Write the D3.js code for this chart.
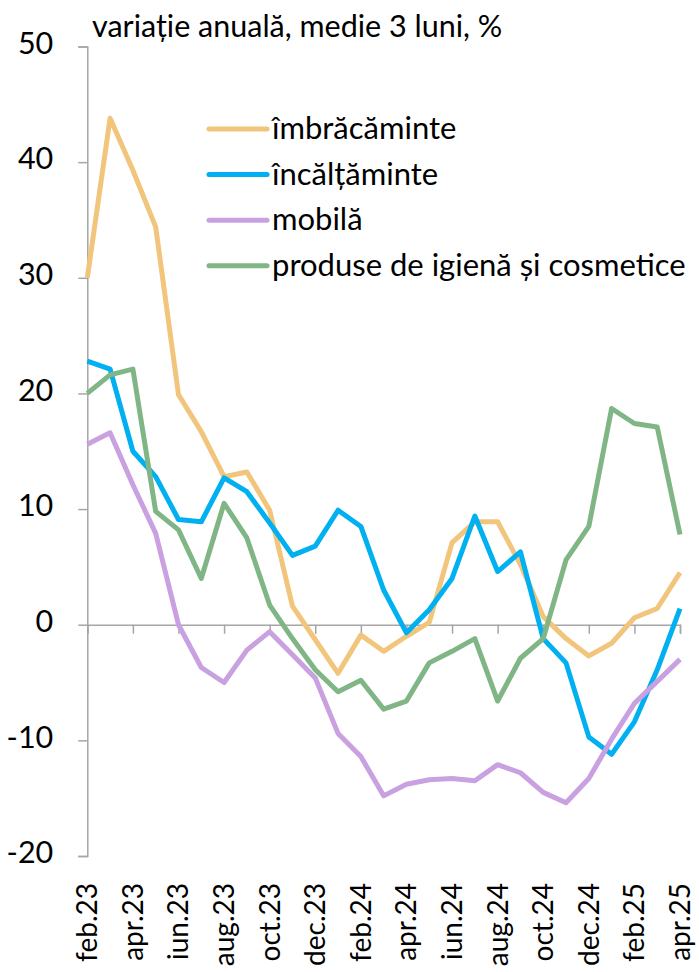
<!DOCTYPE html>
<html>
<head>
<meta charset="utf-8">
<script src="https://cdn.jsdelivr.net/npm/d3@7"></script>
<style>
  body { margin: 0; background: #fff; }
  text { font-family: Lato, "Open Sans", sans-serif; fill: #000; }
</style>
</head>
<body>
<div id="chart"></div>
<script>
const months = ['feb.23','mar.23','apr.23','mai.23','iun.23','iul.23','aug.23','sep.23','oct.23','nov.23','dec.23',
  'ian.24','feb.24','mar.24','apr.24','mai.24','iun.24','iul.24','aug.24','sep.24','oct.24','nov.24','dec.24',
  'ian.25','feb.25','mar.25','apr.25'];

const imbracaminte = [30.0, 43.8, 39.3, 34.4, 19.9, 16.7, 12.8, 13.2, 9.9, 1.6, -1.3, -4.2, -0.9, -2.3, -1.0, 0.2,
  7.1, 8.9, 8.9, 5.2, 0.7, -1.2, -2.7, -1.6, 0.6, 1.4, 4.5];
const incaltaminte = [22.8, 22.1, 15.0, 12.8, 9.1, 8.9, 12.7, 11.5, 8.8, 6.0, 6.8, 9.9, 8.5, 3.0, -0.7, 1.3,
  4.0, 9.4, 4.6, 6.3, -1.2, -3.3, -9.7, -11.2, -8.4, -3.9, 1.4];
const mobila = [15.6, 16.6, 12.1, 7.9, 0.0, -3.7, -5.0, -2.2, -0.6, -2.6, -4.6, -9.4, -11.4, -14.8, -13.8, -13.4,
  -13.3, -13.5, -12.1, -12.8, -14.5, -15.4, -13.3, -9.9, -6.8, -4.9, -3.0];
const igiena = [20.0, 21.6, 22.1, 9.8, 8.2, 4.0, 10.5, 7.5, 1.7, -1.2, -3.9, -5.8, -4.8, -7.3, -6.6, -3.3,
  -2.3, -1.2, -6.6, -2.9, -1.2, 5.6, 8.5, 18.7, 17.4, 17.1, 7.8];

const seriesNames = ['îmbrăcăminte', 'încălțăminte', 'mobilă', 'produse de igienă și cosmetice'];
const seriesColors = ['#F2C57C', '#00B0F0', '#C9A0E0', '#80B685'];
const yTicks = [-20, -10, 0, 10, 20, 30, 40, 50];

const series = [imbracaminte, incaltaminte, mobila, igiena].map((values, k) => ({
  name: seriesNames[k], color: seriesColors[k], values
}));

const width = 699, height = 972;
const margin = { top: 46.5, right: 19, bottom: 116, left: 87.3 };
const fontSize = 30.5;

const svg = d3.select('#chart').append('svg')
  .attr('width', width)
  .attr('height', height);

const x = d3.scalePoint()
  .domain(months)
  .range([margin.left, width - margin.right]);

const y = d3.scaleLinear()
  .domain([-20, 50])
  .range([height - margin.bottom, margin.top]);

// y axis
const yAxis = svg.append('g')
  .attr('transform', `translate(${margin.left},0)`)
  .call(d3.axisLeft(y).tickValues(yTicks).tickSize(9).tickPadding(25).tickFormat(d => String(d)));
yAxis.select('.domain').attr('stroke', '#A6A6A6').attr('stroke-width', 1.5);
yAxis.selectAll('.tick line').attr('stroke', '#A6A6A6').attr('stroke-width', 1.5);
yAxis.selectAll('.tick text')
  .attr('font-size', fontSize)
  .attr('font-family', 'Lato, sans-serif')
  .attr('fill', '#000')
  .attr('dy', '0.22em');

// x axis at zero
const xAxis = svg.append('g')
  .attr('transform', `translate(0,${y(0)})`)
  .call(d3.axisBottom(x).tickValues(months.filter((d, i) => i % 2 === 0)).tickSize(9).tickFormat(''));
xAxis.select('.domain').attr('stroke', '#A6A6A6').attr('stroke-width', 1.5);
xAxis.selectAll('.tick line').attr('stroke', '#A6A6A6').attr('stroke-width', 1.5);

// x labels at the bottom, rotated
svg.append('g')
  .selectAll('text')
  .data(months.filter((d, i) => i % 2 === 0))
  .join('text')
  .attr('transform', d => `translate(${x(d) + 10},${height - margin.bottom + 27}) rotate(-90)`)
  .attr('text-anchor', 'end')
  .attr('font-size', 28)
  .text(d => d);

// lines
const line = d3.line()
  .x((d, i) => x(months[i]))
  .y(d => y(d));

svg.append('g')
  .selectAll('path')
  .data(series)
  .join('path')
  .attr('fill', 'none')
  .attr('stroke', d => d.color)
  .attr('stroke-width', 5)
  .attr('stroke-linejoin', 'round')
  .attr('d', d => line(d.values));

// title
svg.append('text')
  .attr('x', 92)
  .attr('y', 37)
  .attr('font-size', fontSize)
  .text('variație anuală, medie 3 luni, %');

// legend
const legend = svg.append('g')
  .selectAll('g')
  .data(series)
  .join('g')
  .attr('transform', (d, i) => `translate(209,${129 + i * 45.6})`);
legend.append('line')
  .attr('x1', 0).attr('x2', 58)
  .attr('stroke', d => d.color)
  .attr('stroke-width', 5)
  .attr('stroke-linecap', 'round');
legend.append('text')
  .attr('x', 63)
  .attr('dy', '0.33em')
  .attr('font-size', 31)
  .text(d => d.name);
</script>
</body>
</html>
